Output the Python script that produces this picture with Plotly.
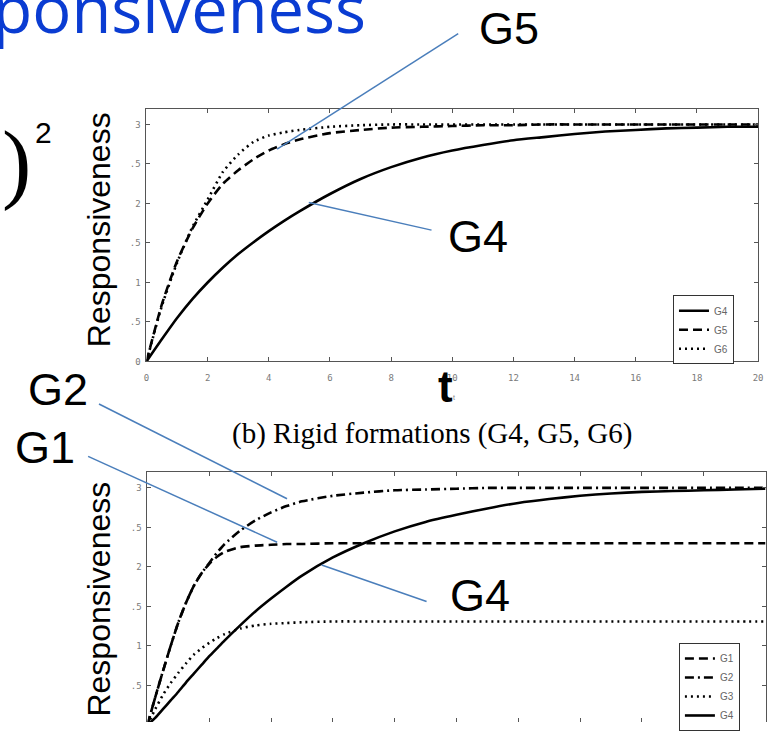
import plotly.graph_objects as go

W, H = 771, 731

# ---------------- data ----------------
T_TOP = [0, 0.5, 1, 1.5, 2, 2.5, 3, 3.5, 4, 4.5, 5, 6, 7, 8, 9, 10,
         11, 12, 13, 14, 15, 16, 17, 18, 19, 20]
G4_TOP = [0, 0.28, 0.55, 0.79, 1.0, 1.19, 1.36, 1.51, 1.65, 1.78, 1.90, 2.12,
          2.31, 2.46, 2.58, 2.67, 2.74, 2.80, 2.84, 2.88, 2.91, 2.93, 2.95,
          2.96, 2.97, 2.97]
G5_TOP = [0, 0.72, 1.27, 1.68, 2.0, 2.25, 2.42, 2.56, 2.67, 2.75, 2.81, 2.89,
          2.93, 2.96, 2.97, 2.98, 2.99, 2.99, 3.0, 3.0, 3.0, 3.0, 3.0, 3.0,
          3.0, 3.0]
G6_TOP = [0, 0.70, 1.25, 1.70, 2.05, 2.40, 2.62, 2.78, 2.86, 2.90, 2.93, 2.97,
          2.99, 3.0, 3.0, 3.0, 3.0, 3.0, 3.0, 3.0, 3.0, 3.0, 3.0, 3.0,
          3.0, 3.0]

T_BOT = [0, 0.25, 0.5, 0.75, 1, 1.25, 1.5, 1.75, 2, 2.25, 2.5, 3, 3.5, 4,
         4.5, 5, 6, 7, 8, 9, 10, 11, 12, 13, 14, 15, 16, 17, 18, 19, 20]
G1_BOT = [0, 0.35, 0.68, 1.0, 1.3, 1.55, 1.76, 1.92, 2.04, 2.13, 2.19, 2.25,
          2.27, 2.28, 2.29, 2.29, 2.3, 2.3, 2.3, 2.3, 2.3, 2.3, 2.3, 2.3,
          2.3, 2.3, 2.3, 2.3, 2.3, 2.3, 2.3]
G2_BOT = [0, 0.35, 0.68, 1.0, 1.3, 1.55, 1.76, 1.92, 2.05, 2.18, 2.29, 2.46,
          2.59, 2.69, 2.77, 2.83, 2.90, 2.94, 2.97, 2.98, 2.99, 3.0, 3.0,
          3.0, 3.0, 3.0, 3.0, 3.0, 3.0, 3.0, 3.0]
G3_BOT = [0, 0.20, 0.38, 0.53, 0.66, 0.78, 0.89, 0.97, 1.04, 1.10, 1.15, 1.22,
          1.26, 1.28, 1.29, 1.30, 1.31, 1.31, 1.31, 1.31, 1.31, 1.31, 1.31,
          1.31, 1.31, 1.31, 1.31, 1.31, 1.31, 1.31, 1.31]
G4_BOT = [0, 0.09, 0.20, 0.31, 0.42, 0.54, 0.65, 0.76, 0.87, 0.97, 1.07, 1.26,
          1.44, 1.60, 1.75, 1.89, 2.12, 2.30, 2.45, 2.57, 2.66, 2.74, 2.81,
          2.86, 2.90, 2.93, 2.95, 2.96, 2.97, 2.98, 2.99]

X_TICKS = [0, 2, 4, 6, 8, 10, 12, 14, 16, 18, 20]
X_TICK_LABELS = ["0", "2", "4", "6", "8", "10", "12", "14", "16", "18", "20"]
Y_TICKS = [0, 0.5, 1, 1.5, 2, 2.5, 3]
Y_TICK_LABELS = ["0", ".5", "1", ".5", "2", ".5", "3"]

TOP_CAPTION = "(b) Rigid formations (G4, G5, G6)"


def px(x):
    return x / W


def py(y):
    return 1 - y / H


SOLID = "solid"
DASH = "9px,5px"
DOT = "2px,4px"
DASHDOT = "9px,4px,2px,4px"
LW = 2.6

fig = go.Figure()

for name, ys, dash in [("G4", G4_TOP, SOLID), ("G5", G5_TOP, DASH), ("G6", G6_TOP, DOT)]:
    fig.add_trace(go.Scatter(x=T_TOP, y=ys, name=name, mode="lines",
                             line=dict(color="black", width=LW, dash=dash, shape="spline", smoothing=0.6),
                             xaxis="x", yaxis="y", legend="legend", hoverinfo="skip"))

for name, ys, dash in [("G1", G1_BOT, DASH), ("G2", G2_BOT, DASHDOT), ("G3", G3_BOT, DOT), ("G4", G4_BOT, SOLID)]:
    fig.add_trace(go.Scatter(x=T_BOT, y=ys, name=name, mode="lines",
                             line=dict(color="black", width=LW, dash=dash, shape="spline", smoothing=0.6),
                             xaxis="x2", yaxis="y2", legend="legend2", hoverinfo="skip"))

# dummy trace so the overlaid top axis of the lower chart is drawn
fig.add_trace(go.Scatter(x=[None], y=[None], xaxis="x3", yaxis="y2", showlegend=False, hoverinfo="skip"))

FRAME = "#555555"
TICKFONT = dict(family="DejaVu Sans Mono", size=9, color="#7a7a7a")

common_x = dict(range=[0, 20], tickvals=X_TICKS, ticktext=X_TICK_LABELS, ticks="inside",
                ticklen=4, tickcolor=FRAME, showgrid=False, zeroline=False,
                linecolor=FRAME, linewidth=1, tickfont=TICKFONT)
common_y = dict(tickvals=Y_TICKS, ticktext=Y_TICK_LABELS, ticks="inside", ticklen=4,
                tickcolor=FRAME, showgrid=False, zeroline=False, showline=True,
                linecolor=FRAME, linewidth=1, mirror="ticks", tickfont=TICKFONT)

fig.update_layout(
    width=W, height=H, autosize=False,
    margin=dict(l=0, r=0, t=0, b=0),
    paper_bgcolor="white", plot_bgcolor="white",
    xaxis=dict(domain=[px(145), px(763)], anchor="y", showline=True, mirror="ticks",
               ticklabelstandoff=8, **common_x),
    yaxis=dict(domain=[py(366), py(110)], anchor="x", range=[0, 3.2],
               ticklabelstandoff=3, **common_y),
    xaxis2=dict(domain=[px(146), px(770.5)], anchor="y2", showline=False,
                showticklabels=False, **common_x),
    xaxis3=dict(domain=[px(146), px(770.5)], anchor="y2", overlaying="x2", side="top",
                showline=True, showticklabels=False, **common_x),
    yaxis2=dict(domain=[0, py(478)], anchor="x2", range=[0.0375, 3.2],
                ticklabelstandoff=3, **common_y),
    legend=dict(x=px(677), y=py(299), xanchor="left", yanchor="top",
                bordercolor="#333333", borderwidth=1, bgcolor="white",
                font=dict(family="Liberation Sans", size=10, color="#666666"),
                itemwidth=30, tracegroupgap=0),
    legend2=dict(x=px(683), y=py(651), xanchor="left", yanchor="top",
                 bordercolor="#333333", borderwidth=1, bgcolor="white",
                 font=dict(family="Liberation Sans", size=10, color="#666666"),
                 itemwidth=30, tracegroupgap=0),
    showlegend=True,
)

ann = []
BLUE_TITLE = "#0a3cd2"
ann.append(dict(text="Responsiveness", x=px(369), y=py(55), xanchor="right", yanchor="bottom",
                font=dict(family="Open Sans", size=65, color=BLUE_TITLE)))
ann.append(dict(text=")", x=px(14), y=py(165), xanchor="center", yanchor="middle",
                font=dict(family="Liberation Serif", size=88, color="black")))
ann.append(dict(text="2", x=px(41), y=py(134), xanchor="center", yanchor="middle",
                font=dict(family="Liberation Sans", size=30, color="black")))
for yc in (232, 606):
    ann.append(dict(text="Responsiveness", x=px(97), y=py(yc), xanchor="center", yanchor="middle",
                    textangle=-90, font=dict(family="Liberation Sans", size=32, color="black")))
ann.append(dict(text="<b>t</b>", x=px(447), y=py(391), xanchor="center", yanchor="middle",
                font=dict(family="Liberation Sans", size=44, color="black")))
ann.append(dict(text="t", x=px(456), y=py(402), xanchor="center", yanchor="middle",
                font=dict(family="Liberation Sans", size=7, color="#888888")))
ann.append(dict(text=TOP_CAPTION, x=px(434), y=py(439), xanchor="center", yanchor="middle",
                font=dict(family="Liberation Serif", size=29, color="black")))
for label, xc, yc in [("G5", 511, 29), ("G4", 480, 239), ("G2", 56, 394), ("G1", 42, 453), ("G4", 482, 603)]:
    ann.append(dict(text=label, x=px(xc), y=py(yc), xanchor="center", yanchor="middle",
                    font=dict(family="Liberation Sans", size=45, color="black")))
for a in ann:
    a.update(xref="paper", yref="paper", showarrow=False)
fig.update_layout(annotations=ann)

BLUE_LINE = "#4a7ebb"
callouts = [((460, 34), (277, 151)), ((309, 205), (433, 233)), ((97, 409), (287, 505)),
            ((86, 462), (277, 549)), ((322, 572), (428, 609))]
shapes = []
for (x0, y0), (x1, y1) in callouts:
    shapes.append(dict(type="line", xref="paper", yref="paper", x0=px(x0), y0=py(y0),
                       x1=px(x1), y1=py(y1), line=dict(color=BLUE_LINE, width=1.5), layer="above"))
fig.update_layout(shapes=shapes)

fig.write_html("out.html")
